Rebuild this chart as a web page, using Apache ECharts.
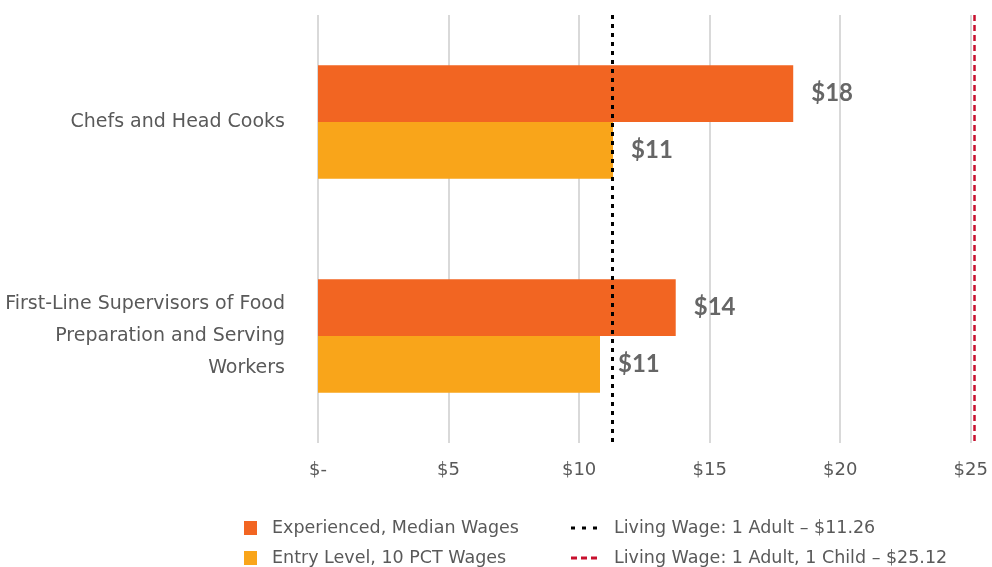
<!DOCTYPE html>
<html>
<head>
<meta charset="utf-8">
<script src="https://cdn.jsdelivr.net/npm/echarts@6/dist/echarts.min.js"></script>
<style>
  html, body { margin: 0; padding: 0; background: #fff; }
  #chart { width: 992px; height: 567px; }
</style>
</head>
<body>
<div id="chart"></div>
<script>
// occupations (top to bottom)
let categories = ['Chefs and Head Cooks', 'First-Line Supervisors of Food Preparation and Serving Workers'];
let experienced = [18.2, 13.7];
let entry = [11.3, 10.8];
// living wage reference lines
let livingAdult = 11.26;
let livingAdultChild = 25.12;
let tickLabels = ['$-', '$5', '$10', '$15', '$20', '$25'];

let wrapped = {
  'First-Line Supervisors of Food Preparation and Serving Workers': 'First-Line Supervisors of Food\nPreparation and Serving\nWorkers'
};

let font = '"DejaVu Sans", sans-serif';
let boldFont = 'Lato, sans-serif';
let grey = '#595959';
let dots = 'path://M0,0h4v3h-4z M11,0h4v3h-4z M22,0h4v3h-4z';
let dashes = 'path://M0,0h6v3h-6z M10,0h6v3h-6z M20,0h6v3h-6z';

let myChart = echarts.init(document.getElementById('chart'));

let barLabel = {
  show: true,
  position: 'right',
  distance: 18,
  color: '#666666',
  fontWeight: 'bold',
  fontSize: 24,
  fontFamily: boldFont,
  formatter: p => '$' + Math.round(p.value)
};

function legendAt(name, left, top, icon, w, h, gap) {
  return {
    left: left,
    top: top,
    itemWidth: w,
    itemHeight: h,
    padding: 0,
    icon: icon,
    textStyle: {color: grey, fontSize: 17.5, fontFamily: font, padding: [0, 0, 0, gap]},
    data: [name]
  };
}

let names = ['Experienced, Median Wages', 'Entry Level, 10 PCT Wages',
  'Living Wage: 1 Adult – $11.26', 'Living Wage: 1 Adult, 1 Child – $25.12'];

let option = {
  animation: false,
  textStyle: {fontFamily: font},
  grid: {left: 318, right: 16, top: 15, bottom: 124},
  xAxis: {
    type: 'value',
    min: 0,
    max: 25.2,
    interval: 5,
    axisLine: {show: false},
    axisTick: {show: false},
    splitLine: {showMaxLine: false, lineStyle: {color: '#d9d9d9', width: 2}},
    axisLabel: {
      color: grey,
      fontSize: 18,
      margin: 18,
      fontFamily: font,
      showMaxLabel: false,
      formatter: v => (v % 5 === 0 ? tickLabels[v / 5] : '')
    }
  },
  yAxis: {
    type: 'category',
    inverse: true,
    data: categories,
    axisLine: {show: false},
    axisTick: {show: false},
    axisLabel: {
      color: grey,
      fontSize: 19,
      lineHeight: 32,
      margin: 33,
      align: 'right',
      fontFamily: font,
      formatter: v => wrapped[v] || v
    }
  },
  legend: [
    legendAt(names[0], 244, 519, 'rect', 13, 14, 10),
    legendAt(names[1], 244, 549, 'rect', 13, 14, 10),
    legendAt(names[2], 571, 519, dots, 26, 3, 12),
    legendAt(names[3], 571, 549, dashes, 26, 3, 12)
  ],
  series: [
    {
      name: names[0],
      type: 'bar',
      data: experienced,
      barGap: '0%',
      barCategoryGap: '47%',
      itemStyle: {color: '#F26522'},
      label: barLabel
    },
    {
      name: names[1],
      type: 'bar',
      data: entry,
      itemStyle: {color: '#F9A51A'},
      label: barLabel
    },
    {
      name: names[2],
      type: 'line',
      data: [],
      symbol: 'none',
      itemStyle: {color: '#000000'},
      markLine: {
        silent: true,
        symbol: 'none',
        label: {show: false},
        lineStyle: {color: '#000000', type: [4, 5], width: 3},
        data: [{xAxis: livingAdult}]
      }
    },
    {
      name: names[3],
      type: 'line',
      data: [],
      symbol: 'none',
      itemStyle: {color: '#C8102E'},
      markLine: {
        silent: true,
        symbol: 'none',
        label: {show: false},
        lineStyle: {color: '#C8102E', type: [6, 4], width: 2.5},
        data: [{xAxis: livingAdultChild}]
      }
    }
  ]
};
myChart.setOption(option);
</script>
</body>
</html>
